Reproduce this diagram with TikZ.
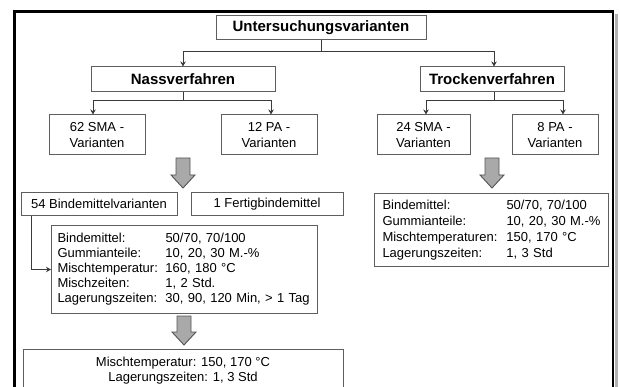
\documentclass[tikz,border=0pt]{standalone}
\usepackage{fontspec}
\setmainfont{Liberation Sans}
\usetikzlibrary{arrows.meta}
\definecolor{boxgray}{HTML}{5E5E5E}
\definecolor{linegray}{HTML}{3A3A3A}
\definecolor{arrowfill}{HTML}{A9A9A9}
\definecolor{arrowdraw}{HTML}{555555}
\newcommand\bigdownarrow[3]{%
  \filldraw[fill=arrowfill, draw=arrowdraw, line width=0.9pt, line join=miter]
    (#1-7,#2) -- (#1+7,#2) -- (#1+7,#3-13) -- (#1+12,#3-13) -- (#1,#3)
    -- (#1-12,#3-13) -- (#1-7,#3-13) -- cycle;}
\begin{document}
\begin{tikzpicture}[x=1pt,y=-1pt,
  box/.style={draw=boxgray, line width=1pt, inner sep=0pt, text=black,
    font=\fontsize{13}{16}\selectfont},
  hbox/.style={box, font=\bfseries\fontsize{15}{18}\selectfont},
  detail/.style={box, align=left, inner ysep=0pt},
  conn/.style={draw=linegray, line width=1pt, -{Stealth[length=5pt,width=5.5pt]}}
]
\useasboundingbox (0,0) rectangle (620,387);
\clip (0,0) rectangle (620,387);
\fill[white] (0,0) rectangle (620,387);
% outer frame
\fill[gray!60] (614.5,14) rectangle (617.5,400);
\draw[line width=2.7pt] (14.7,11.3) rectangle (613,400);

% level 0/1
\node[hbox, minimum width=210pt, minimum height=24pt] (unters) at (321,28) {Untersuchungsvarianten};
\node[hbox, minimum width=184pt, minimum height=25pt] (nass) at (183,79.5) {Nassverfahren};
\node[hbox, minimum width=144pt, minimum height=25pt] (trocken) at (492,79.5) {Trockenverfahren};

% level 2
\node[box, minimum width=96pt, minimum height=40pt, align=center] (sma62) at (97,135) {62 SMA -\\Varianten};
\node[box, minimum width=96pt, minimum height=40pt, align=center] (pa12) at (269,135) {12 PA -\\Varianten};
\node[box, minimum width=93pt, minimum height=40pt, align=center] (sma24) at (423.5,135) {24 SMA -\\Varianten};
\node[box, minimum width=86pt, minimum height=40pt, align=center] (pa8) at (555,135) {8 PA -\\Varianten};

% level 3
\node[box, minimum width=156pt, minimum height=22pt] (bind54) at (99,204) {54 Bindemittelvarianten};
\node[box, minimum width=152pt, minimum height=22pt] (fertig) at (267,204) {1 Fertigbindemittel};

\node[detail, anchor=north west, minimum height=88pt, text width=254pt, inner xsep=6pt,
  font=\fontsize{13}{15}\selectfont] (detail1) at (51,225) {%
  \makebox[108pt][l]{Bindemittel:}50/70, 70/100\\
  \makebox[108pt][l]{Gummianteile:}10, 20, 30 M.-\%\\
  \makebox[108pt][l]{Mischtemperatur:}160, 180 °C\\
  \makebox[108pt][l]{Mischzeiten:}1, 2 Std.\\
  \makebox[108pt][l]{Lagerungszeiten:}30, 90, 120 Min, > 1 Tag};

\node[detail, anchor=north west, minimum height=73pt, text width=218pt, inner xsep=8pt,
  font=\fontsize{13}{16}\selectfont] (detail2) at (374,193) {%
  \makebox[124pt][l]{Bindemittel:}50/70, 70/100\\
  \makebox[124pt][l]{Gummianteile:}10, 20, 30 M.-\%\\
  \makebox[124pt][l]{Mischtemperaturen:}150, 170 °C\\
  \makebox[124pt][l]{Lagerungszeiten:}1, 3 Std};

\node[box, minimum width=320pt, minimum height=43pt, align=center,
  font=\fontsize{13}{15}\selectfont] (final) at (183,370.5) {%
  Mischtemperatur: 150, 170 °C\\Lagerungszeiten: 1, 3 Std};

% connectors
\coordinate (j1) at (unters.south |- 0,52);
\draw[conn] (unters.south) -- (j1) -| (nass.north);
\draw[conn] (j1) -| ([xshift=2pt]trocken.north);

\coordinate (j2) at (nass.south |- 0,101);
\draw[conn] (nass.south) -- (j2) -| ([xshift=-4pt]sma62.north);
\draw[conn] (j2) -| ([xshift=2pt]pa12.north);

\coordinate (j3) at ([xshift=2pt]trocken.south |- 0,101);
\draw[conn] ([xshift=2pt]trocken.south) -- (j3) -| ([xshift=2.5pt]sma24.north);
\draw[conn] (j3) -| ([xshift=8pt]pa8.north);

\draw[conn] ([xshift=11pt]bind54.south west) |- (detail1.west);

% big arrows
\bigdownarrow{183}{158}{188}
\bigdownarrow{492}{158}{188}
\bigdownarrow{184}{316}{345}
\end{tikzpicture}
\end{document}
